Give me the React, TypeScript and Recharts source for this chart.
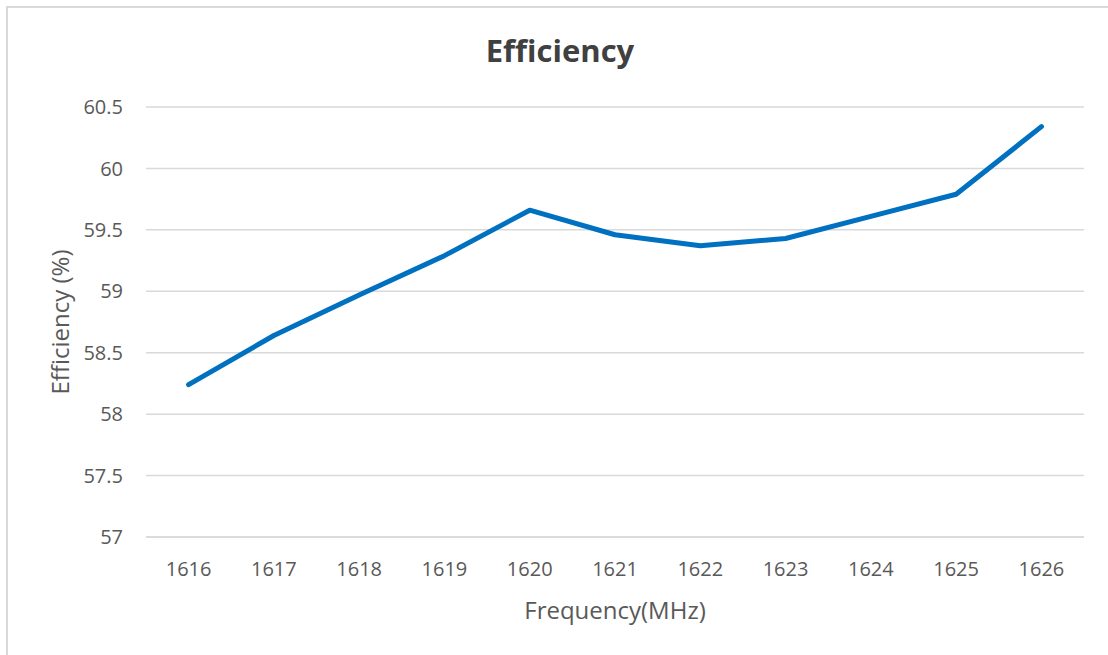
import { LineChart, Line, XAxis, YAxis, CartesianGrid } from 'recharts';

const frequencies = ['1616', '1617', '1618', '1619', '1620', '1621', '1622', '1623', '1624', '1625', '1626'];
const efficiency = [58.24, 58.64, 58.97, 59.29, 59.66, 59.46, 59.37, 59.43, 59.61, 59.79, 60.34];
const yTicks = [57, 57.5, 58, 58.5, 59, 59.5, 60, 60.5];

const data = frequencies.map((f, i) => ({ freq: f, eff: efficiency[i] }));

const FONT = '"Open Sans", "Liberation Sans", sans-serif';
const TEXT = '#595959';
const GRID = '#d9d9d9';

export default function App() {
  return (
    <div style={{ position: 'absolute', left: 0, top: 0, width: 1108, height: 655, overflow: 'hidden', background: '#fff' }}>
      <div
        style={{
          position: 'absolute',
          left: 6,
          top: 6,
          width: 1130,
          height: 690,
          border: `2px solid ${GRID}`,
          boxSizing: 'border-box',
        }}
      />
      <div
        style={{
          position: 'absolute',
          left: 360,
          width: 400,
          top: 30,
          textAlign: 'center',
          fontFamily: FONT,
          fontWeight: 700,
          fontSize: 31,
          color: '#404040',
          lineHeight: '40px',
        }}
      >
        Efficiency
      </div>
      <div style={{ position: 'absolute', left: 0, top: 0 }}>
        <LineChart width={1108} height={655} data={data} margin={{ top: 107, right: 24, bottom: 28, left: 26 }}>
          <CartesianGrid vertical={false} stroke={GRID} strokeWidth={1.5} />
          <XAxis
            dataKey="freq"
            height={90}
            padding={{ left: 42.6, right: 42.6 }}
            tickSize={0}
            tickMargin={25}
            axisLine={{ stroke: GRID, strokeWidth: 1.5 }}
            tick={{ fill: TEXT, fontSize: 20, fontFamily: FONT }}
            label={{
              value: 'Frequency(MHz)',
              position: 'insideBottom',
              offset: 8,
              style: { fill: TEXT, fontSize: 24, fontFamily: FONT },
            }}
          />
          <YAxis
            width={120}
            domain={[57, 60.5]}
            ticks={yTicks}
            interval={0}
            tickSize={0}
            tickMargin={23}
            axisLine={false}
            tick={{ fill: TEXT, fontSize: 20, fontFamily: FONT }}
            label={{
              value: 'Efficiency (%)',
              angle: -90,
              position: 'insideLeft',
              offset: 34,
              style: { fill: TEXT, fontSize: 24, fontFamily: FONT, textAnchor: 'middle' },
            }}
          />
          <Line
            type="linear"
            dataKey="eff"
            stroke="#0070c0"
            strokeWidth={5}
            strokeLinecap="round"
            strokeLinejoin="round"
            dot={false}
            activeDot={false}
            isAnimationActive={false}
          />
        </LineChart>
      </div>
    </div>
  );
}
